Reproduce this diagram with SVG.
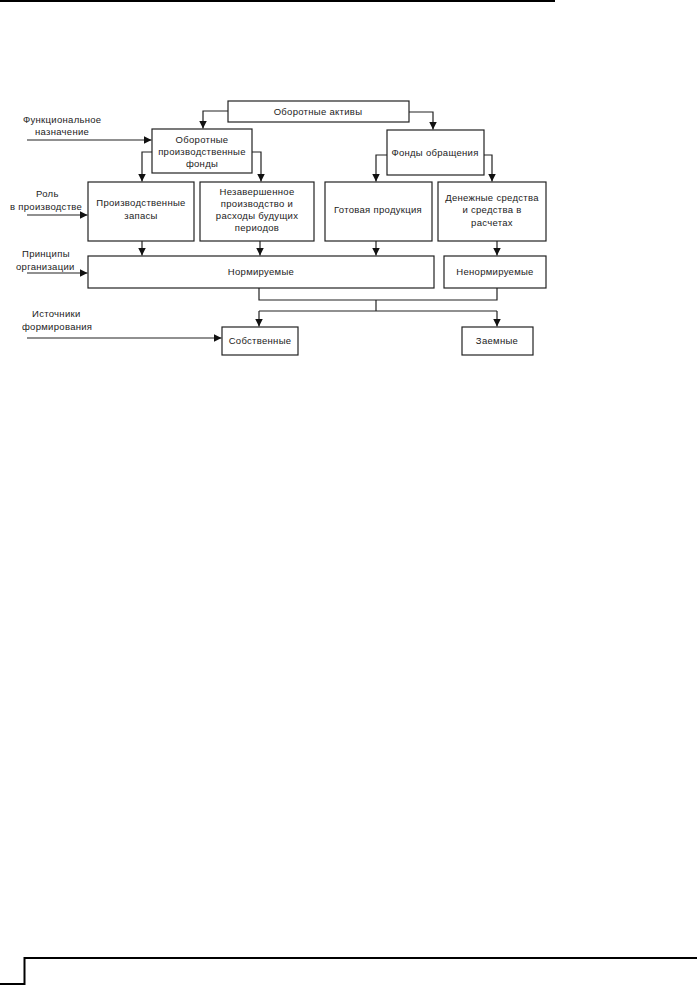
<svg xmlns="http://www.w3.org/2000/svg" width="697" height="986" viewBox="0 0 697 986">
<style>
.box{fill:#fff;stroke:#222;stroke-width:1.2}
.ln{fill:none;stroke:#222;stroke-width:1.2}
text{font-family:"Liberation Sans",Arial,sans-serif;font-size:9.5px;fill:#222;letter-spacing:0.3px}
.c{text-anchor:middle}
.rule{stroke:#000;stroke-width:2;fill:none}
</style>
<defs>
<marker id="ah" viewBox="0 0 10 10" refX="10" refY="5" markerWidth="8" markerHeight="8" markerUnits="userSpaceOnUse" orient="auto">
<path d="M0,0 L10,5 L0,10 Z" fill="#111"/>
</marker>
</defs>
<path class="rule" d="M0,1 H555"/>
<path class="rule" d="M0,984 H24.5 V958 H697"/>

<g id="connectors">
<path class="ln" d="M228,111 H203 V128.5" marker-end="url(#ah)"/>
<path class="ln" d="M409,112 H433 V129.5" marker-end="url(#ah)"/>
<path class="ln" d="M152,152 H142 V181.5" marker-end="url(#ah)"/>
<path class="ln" d="M252,152 H261 V181.5" marker-end="url(#ah)"/>
<path class="ln" d="M387,155 H376 V181.5" marker-end="url(#ah)"/>
<path class="ln" d="M484,155 H492 V181.5" marker-end="url(#ah)"/>
<path class="ln" d="M142,241 V255.5" marker-end="url(#ah)"/>
<path class="ln" d="M260,241 V255.5" marker-end="url(#ah)"/>
<path class="ln" d="M376,241 V255.5" marker-end="url(#ah)"/>
<path class="ln" d="M497,241 V255.5" marker-end="url(#ah)"/>
<path class="ln" d="M259,288 V300 H497 V288"/>
<path class="ln" d="M376,300 V311"/>
<path class="ln" d="M259,311 H497"/>
<path class="ln" d="M259,311 V326.5" marker-end="url(#ah)"/>
<path class="ln" d="M497,311 V326.5" marker-end="url(#ah)"/>
<path class="ln" d="M27,140 H151.5" marker-end="url(#ah)"/>
<path class="ln" d="M27,215 H87.5" marker-end="url(#ah)"/>
<path class="ln" d="M27,273 H87.5" marker-end="url(#ah)"/>
<path class="ln" d="M27,338 H221.5" marker-end="url(#ah)"/>
</g>

<g id="label-func"><text x="23" y="123">Функциональное</text><text x="35" y="135">назначение</text></g>
<g id="label-role"><text x="36" y="197">Роль</text><text x="10" y="210">в производстве</text></g>
<g id="label-princ"><text x="22" y="257">Принципы</text><text x="16" y="270">организации</text></g>
<g id="label-src"><text x="32" y="317">Источники</text><text x="22" y="330">формирования</text></g>

<g id="n-oa"><rect class="box" x="228" y="101" width="181" height="21"/><text class="c" x="318" y="115">Оборотные активы</text></g>
<g id="n-opf"><rect class="box" x="152" y="129" width="100" height="44"/><text class="c" x="202" y="143">Оборотные</text><text class="c" x="202" y="155">производственные</text><text class="c" x="202" y="167">фонды</text></g>
<g id="n-fo"><rect class="box" x="387" y="130" width="97" height="45"/><text class="c" x="435" y="156">Фонды обращения</text></g>
<g id="n-pz"><rect class="box" x="88" y="182" width="106" height="59"/><text class="c" x="141" y="206">Производственные</text><text class="c" x="141" y="219">запасы</text></g>
<g id="n-np"><rect class="box" x="200" y="182" width="114" height="59"/><text class="c" x="257" y="195">Незавершенное</text><text class="c" x="257" y="207">производство и</text><text class="c" x="257" y="219">расходы будущих</text><text class="c" x="257" y="231">периодов</text></g>
<g id="n-gp"><rect class="box" x="325" y="182" width="107" height="59"/><text class="c" x="378" y="213">Готовая продукция</text></g>
<g id="n-ds"><rect class="box" x="438" y="182" width="108" height="59"/><text class="c" x="492" y="201">Денежные средства</text><text class="c" x="492" y="213">и средства в</text><text class="c" x="492" y="226">расчетах</text></g>
<g id="n-norm"><rect class="box" x="88" y="256" width="346" height="32"/><text class="c" x="261" y="275">Нормируемые</text></g>
<g id="n-nenorm"><rect class="box" x="444" y="256" width="102" height="32"/><text class="c" x="495" y="275">Ненормируемые</text></g>
<g id="n-sob"><rect class="box" x="222" y="327" width="76" height="28"/><text class="c" x="260" y="344">Собственные</text></g>
<g id="n-zaem"><rect class="box" x="462" y="327" width="71" height="28"/><text class="c" x="497" y="344">Заемные</text></g>
</svg>
